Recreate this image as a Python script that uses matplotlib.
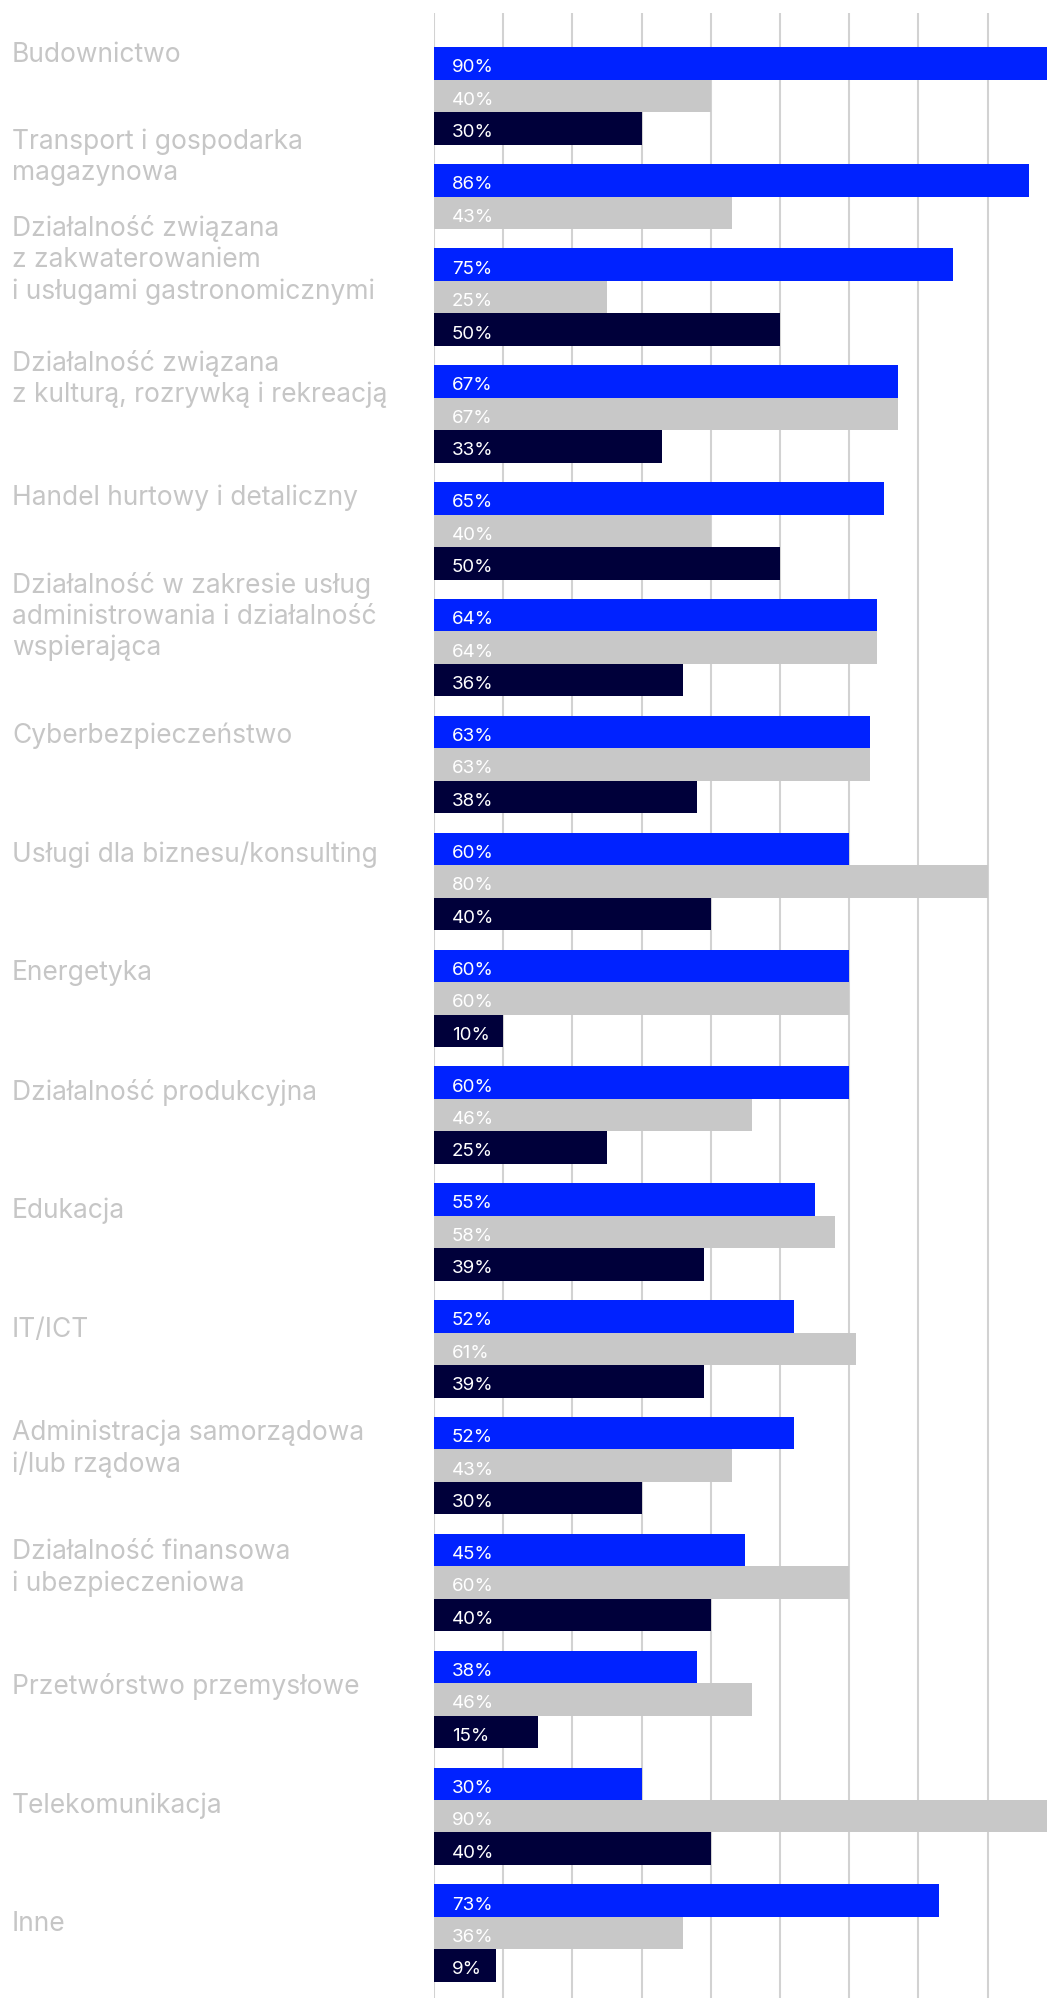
import numpy as np
import matplotlib
matplotlib.use('Agg')
import matplotlib.pyplot as plt
from matplotlib.transforms import blended_transform_factory

# Branże i odsetki dla trzech serii (None = brak słupka)
categories = [
    "Budownictwo",
    "Transport i gospodarka\nmagazynowa",
    "Działalność związana\nz zakwaterowaniem\ni usługami gastronomicznymi",
    "Działalność związana\nz kulturą, rozrywką i rekreacją",
    "Handel hurtowy i detaliczny",
    "Działalność w zakresie usług\nadministrowania i działalność\nwspierająca",
    "Cyberbezpieczeństwo",
    "Usługi dla biznesu/konsulting",
    "Energetyka",
    "Działalność produkcyjna",
    "Edukacja",
    "IT/ICT",
    "Administracja samorządowa\ni/lub rządowa",
    "Działalność finansowa\ni ubezpieczeniowa",
    "Przetwórstwo przemysłowe",
    "Telekomunikacja",
    "Inne",
]
series_blue = [90, 86, 75, 67, 65, 64, 63, 60, 60, 60, 55, 52, 52, 45, 38, 30, 73]
series_grey = [40, 43, 25, 67, 40, 64, 63, 80, 60, 46, 58, 61, 43, 60, 46, 90, 36]
series_navy = [30, None, 50, 33, 50, 36, 38, 40, 10, 25, 39, 39, 30, 40, 15, 40, 9]
colors = ['#0022ff', '#c8c8c8', '#00003a']
x_ticks = np.arange(0, 90, 10)

plt.rcParams['font.family'] = ['Inter', 'DejaVu Sans']

W, H = 1047, 1999
fig = plt.figure(figsize=(W / 100, H / 100), dpi=100)
fig.patch.set_facecolor('white')

ax_left = 434 / W
ax_top = 14 / H
ax = fig.add_axes([ax_left, 0, 1 - ax_left, 1 - ax_top])

# Słupki układane jeden pod drugim, grupy oddzielone przerwą
gap = 0.6
y = 0.0
bar_y, bar_val, bar_col = [], [], []
group_centers = []
for i in range(len(categories)):
    vals = [series_blue[i], series_grey[i], series_navy[i]]
    start = y
    for v, c in zip(vals, colors):
        if v is None:
            continue
        bar_y.append(y + 0.5)
        bar_val.append(v)
        bar_col.append(c)
        y += 1
    group_centers.append((start + y) / 2)
    y += gap
total = y - gap

ax.barh(bar_y, bar_val, height=1.0, color=bar_col, linewidth=0, zorder=2)

for yy, v in zip(bar_y, bar_val):
    ax.annotate(f"{v}%", xy=(0, yy), xytext=(13, -1), textcoords='offset points',
                color='white', fontsize=13.5, va='center_baseline', ha='left', zorder=3)

for xt in x_ticks:
    ax.axvline(xt, color='#d2d2d2', lw=1.5, zorder=1)

ax.set_xlim(0, (W - 434) / 69.2 * 10)
ax.set_ylim(total + 0.5, -1.055)
ax.axis('off')

# Nazwy branż po lewej stronie
trans = blended_transform_factory(fig.transFigure, ax.transData)
n = len(categories)
for i, (lab, yc) in enumerate(zip(categories, group_centers)):
    shift = -1.3 + 1.0 * i / (n - 1)
    ax.text(12 / W, yc + shift, lab, transform=trans, color='#c6c6c6',
            fontsize=19, va='center', ha='left',
            linespacing=1.25, clip_on=False)

fig.savefig('out.png', dpi=100)
